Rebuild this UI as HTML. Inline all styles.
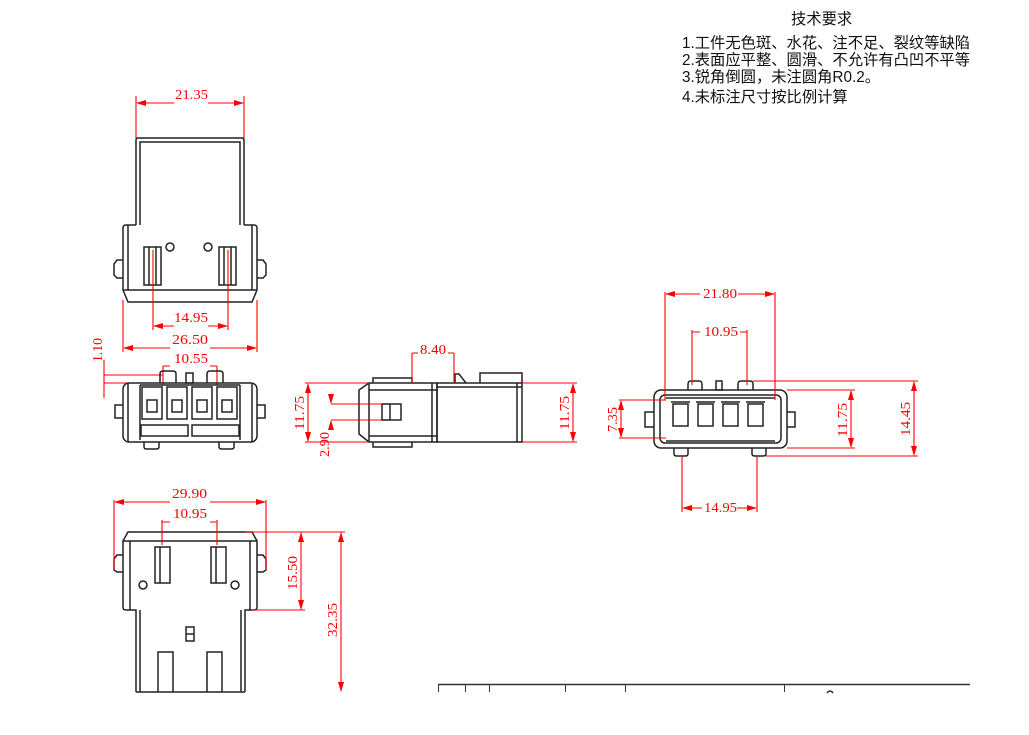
<!DOCTYPE html>
<html><head><meta charset="utf-8"><style>
html,body{margin:0;padding:0;background:#fff;width:1029px;height:735px;overflow:hidden}
svg{display:block}
.k{fill:none;stroke:#222;stroke-width:1.5}
.r{fill:none;stroke:#f00;stroke-width:1.1}
.t{fill:#f00;font-family:"Liberation Serif",serif;font-size:14px}
.cn{font-family:"Liberation Sans","Noto Sans CJK SC",sans-serif;font-size:15.3px;fill:#111}
</style></head><body>
<svg width="1029" height="735" viewBox="0 0 1029 735" xmlns="http://www.w3.org/2000/svg">
<defs>
<marker id="a" markerWidth="10" markerHeight="6" refX="9" refY="3" orient="auto-start-reverse" markerUnits="userSpaceOnUse"><path d="M0,0 L10,3 L0,6 z" fill="#f00"/></marker>
</defs>

<text class="cn" x="791" y="24">技术要求</text>
<text class="cn" x="682" y="48">1.工件无色斑、水花、注不足、裂纹等缺陷</text>
<text class="cn" x="682" y="65">2.表面应平整、圆滑、不允许有凸凹不平等</text>
<text class="cn" x="682" y="82">3.锐角倒圆，未注圆角R0.2。</text>
<text class="cn" x="682" y="102">4.未标注尺寸按比例计算</text>

<g class="k">
<path d="M136,225 V140 Q136,138 138,138 H242 Q244,138 244,140 V225"/>
<path d="M140,225 V142 H240 V225"/>
<path d="M136,225 H126 Q123,225 123,228 V290 L128,302 H252 L257,290 V228 Q257,225 254,225 H244"/>
<path d="M128,225 V290 M252,225 V290 M123,290 H257"/>
<path d="M123,260 H117 L114,264 V275 L117,278 H123"/>
<path d="M257,260 H263 L266,264 V275 L263,278 H257"/>
<rect x="144" y="247" width="17" height="38"/>
<path d="M149,247 V285 M156,247 V285"/>
<rect x="219" y="247" width="17" height="38"/>
<path d="M224,247 V285 M231,247 V285"/>
<circle cx="170" cy="247" r="4"/>
<circle cx="208" cy="247" r="4"/>
</g>
<g class="r">
<path d="M136,96 V138 M244,96 V138"/>
<line x1="174" y1="103" x2="137" y2="103" marker-end="url(#a)"/>
<line x1="208" y1="103" x2="243" y2="103" marker-end="url(#a)"/>
<path d="M153,250 V330 M228,250 V330"/>
<line x1="174" y1="326" x2="154" y2="326" marker-end="url(#a)"/>
<line x1="208" y1="326" x2="227" y2="326" marker-end="url(#a)"/>
<path d="M123,300 V352 M257,300 V352"/>
<line x1="170" y1="348" x2="124" y2="348" marker-end="url(#a)"/>
<line x1="210" y1="348" x2="256" y2="348" marker-end="url(#a)"/>
<path d="M163,366 V385 M217,366 V385 M163,366 H170 M217,366 H210"/>
<path d="M104,375 H163 M104,383 H163 M104,360 V398"/>
</g>
<text class="t" x="175" y="99" textLength="33" lengthAdjust="spacingAndGlyphs">21.35</text>
<text class="t" x="174" y="322" textLength="34" lengthAdjust="spacingAndGlyphs">14.95</text>
<text class="t" x="172" y="344" textLength="36" lengthAdjust="spacingAndGlyphs">26.50</text>
<text class="t" x="174" y="363" textLength="34" lengthAdjust="spacingAndGlyphs">10.55</text>
<text class="t" transform="translate(102,362) rotate(-90)" textLength="24" lengthAdjust="spacingAndGlyphs">1.10</text>

<g class="k">
<rect x="123" y="383" width="134" height="59" rx="6"/>
<path d="M128,383 V442 M252,383 V442 M140,385 V440 M240,385 V440 M140,385 H240"/>
<path d="M160,383 V374 Q160,371 163,371 H173 Q176,371 176,374 V383"/>
<rect x="186" y="373" width="7" height="10"/>
<path d="M207,383 V374 Q207,371 210,371 H220 Q223,371 223,374 V383"/>
<rect x="142" y="387" width="20" height="32"/><rect x="167" y="387" width="20" height="32"/>
<rect x="192" y="387" width="20" height="32"/><rect x="217" y="387" width="20" height="32"/>
<path d="M147,400 H157 V412 H147 Z M172,400 H182 V412 H172 Z M197,400 H207 V412 H197 Z M222,400 H232 V412 H222 Z"/>
<rect x="141" y="425" width="47" height="11"/><rect x="192" y="425" width="47" height="11"/>
<path d="M123,405 H115 V418 H123 M257,405 H265 V418 H257"/>
<path d="M144,442 V447 Q144,449 147,449 H156 Q159,449 159,447 V442 M219,442 V447 Q219,449 222,449 H231 Q234,449 234,447 V442"/>
</g>

<g class="k">
<path d="M136,692 V610 H126 Q123,610 123,607 V541 L128,532 H252 L257,541 V607 Q257,610 254,610 H245 V692"/>
<path d="M123,541 H257 M130,541 V610 M250,541 V610 M140,610 V692 M241,610 V692"/>
<path d="M123,555 H117 L114,559 V570 L117,572 H123 M257,555 H263 L266,559 V570 L263,572 H257"/>
<rect x="155" y="547" width="15" height="36"/><path d="M160,547 V583"/>
<rect x="211" y="547" width="15" height="36"/><path d="M216,547 V583"/>
<circle cx="143" cy="585" r="4"/><circle cx="235" cy="585" r="4"/>
<rect x="186" y="627" width="8" height="14"/><path d="M186,634 H194"/>
<path d="M158,692 V652 H173 V692 M207,692 V652 H222 V692 M136,692 H245"/>
</g>
<g class="r">
<path d="M114,500 V570 M266,500 V570"/>
<line x1="170" y1="502" x2="115" y2="502" marker-end="url(#a)"/>
<line x1="210" y1="502" x2="265" y2="502" marker-end="url(#a)"/>
<path d="M162,520 V545 M217,520 V545 M162,522 H170 M217,522 H210"/>
<path d="M245,532 H345 M252,610 H305"/>
<line x1="301" y1="570" x2="301" y2="533" marker-end="url(#a)"/>
<line x1="301" y1="570" x2="301" y2="609" marker-end="url(#a)"/>
<line x1="341" y1="600" x2="341" y2="533" marker-end="url(#a)"/>
<line x1="341" y1="600" x2="341" y2="691" marker-end="url(#a)"/>
</g>
<text class="t" x="172" y="498" textLength="35" lengthAdjust="spacingAndGlyphs">29.90</text>
<text class="t" x="173" y="518" textLength="34" lengthAdjust="spacingAndGlyphs">10.95</text>
<text class="t" transform="translate(297,590) rotate(-90)" textLength="34" lengthAdjust="spacingAndGlyphs">15.50</text>
<text class="t" transform="translate(337,637) rotate(-90)" textLength="34" lengthAdjust="spacingAndGlyphs">32.35</text>

<g class="k">
<path d="M369,383 L359,390 V434 L369,442"/>
<rect x="369" y="383" width="68" height="59"/>
<path d="M369,390 H437 M369,436 H437"/>
<rect x="437" y="383" width="85" height="59"/>
<path d="M432,383 V442 M517,383 V442 M437,387 H522"/>
<path d="M373,383 V378 H412 V383 M373,442 V447 H412 V442"/>
<path d="M480,383 V373 H522 V383"/>
<path d="M455,383 V374 H459 L466,383"/>
<rect x="382" y="404" width="19" height="16"/><path d="M390,404 V420"/>
</g>
<g class="r">
<path d="M412,353 V383 M454,353 V383 M412,353 H418 M454,353 H448"/>
<path d="M305,383 H369 M305,442 H369"/>
<line x1="308" y1="413" x2="308" y2="384" marker-end="url(#a)"/>
<line x1="308" y1="413" x2="308" y2="441" marker-end="url(#a)"/>
<path d="M331,404 H382 M331,420 H382"/>
<line x1="331" y1="395" x2="331" y2="403" marker-end="url(#a)"/>
<line x1="331" y1="430" x2="331" y2="421" marker-end="url(#a)"/>
<path d="M522,383 H577 M522,442 H577"/>
<line x1="573" y1="413" x2="573" y2="384" marker-end="url(#a)"/>
<line x1="573" y1="413" x2="573" y2="441" marker-end="url(#a)"/>
</g>
<text class="t" x="420" y="354" textLength="26" lengthAdjust="spacingAndGlyphs">8.40</text>
<text class="t" transform="translate(304,430) rotate(-90)" textLength="34" lengthAdjust="spacingAndGlyphs">11.75</text>
<text class="t" transform="translate(329,457) rotate(-90)" textLength="25" lengthAdjust="spacingAndGlyphs">2.90</text>
<text class="t" transform="translate(569,430) rotate(-90)" textLength="34" lengthAdjust="spacingAndGlyphs">11.75</text>

<g class="k">
<rect x="654" y="390" width="133" height="58" rx="7"/>
<rect x="660" y="395" width="121" height="48" rx="5"/>
<path d="M666,398 H775 M666,441 H775"/>
<path d="M688,390 V384 Q688,381 691,381 H699 Q702,381 702,384 V390"/>
<rect x="716" y="381" width="6" height="9"/>
<path d="M738,390 V384 Q738,381 741,381 H750 Q753,381 753,384 V390"/>
<rect x="673" y="404" width="15" height="22"/><rect x="698" y="404" width="15" height="22"/>
<rect x="723" y="404" width="15" height="22"/><rect x="748" y="404" width="15" height="22"/>
<path d="M671,402 H690 M696,402 H715 M721,402 H740 M746,402 H765"/>
<path d="M654,412 H645 V427 H654 M787,412 H795 V427 H787"/>
<path d="M674,448 V454 Q674,456 677,456 H685 Q688,456 688,454 V448 M752,448 V454 Q752,456 755,456 H763 Q766,456 766,454 V448"/>
</g>
<g class="r">
<path d="M665,292 V400 M775,292 V400"/>
<line x1="700" y1="294" x2="666" y2="294" marker-end="url(#a)"/>
<line x1="738" y1="294" x2="774" y2="294" marker-end="url(#a)"/>
<path d="M692,330 V385 M747,330 V385 M692,332 H700 M747,332 H740"/>
<path d="M787,390 H855 M787,448 H855 M753,381 H918 M766,456 H918"/>
<line x1="851" y1="420" x2="851" y2="391" marker-end="url(#a)"/>
<line x1="851" y1="420" x2="851" y2="447" marker-end="url(#a)"/>
<line x1="914" y1="420" x2="914" y2="382" marker-end="url(#a)"/>
<line x1="914" y1="420" x2="914" y2="455" marker-end="url(#a)"/>
<path d="M619,400 H666 M619,438 H666"/>
<line x1="621" y1="419" x2="621" y2="401" marker-end="url(#a)"/>
<line x1="621" y1="419" x2="621" y2="437" marker-end="url(#a)"/>
<path d="M682,456 V512 M757,456 V512"/>
<line x1="702" y1="508" x2="683" y2="508" marker-end="url(#a)"/>
<line x1="737" y1="508" x2="756" y2="508" marker-end="url(#a)"/>
</g>
<text class="t" x="703" y="298" textLength="34" lengthAdjust="spacingAndGlyphs">21.80</text>
<text class="t" x="704" y="336" textLength="34" lengthAdjust="spacingAndGlyphs">10.95</text>
<text class="t" transform="translate(847,437) rotate(-90)" textLength="34" lengthAdjust="spacingAndGlyphs">11.75</text>
<text class="t" transform="translate(910,436) rotate(-90)" textLength="34" lengthAdjust="spacingAndGlyphs">14.45</text>
<text class="t" transform="translate(617,432) rotate(-90)" textLength="25" lengthAdjust="spacingAndGlyphs">7.35</text>
<text class="t" x="704" y="512" textLength="33" lengthAdjust="spacingAndGlyphs">14.95</text>

<g fill="none" stroke="#333">
<path d="M438,684.5 H970" stroke-width="1.6"/>
<path d="M438.5,684 V692 M465.5,684 V692 M489.5,684 V692 M565.5,684 V692 M625.5,684 V692 M784.5,684 V692"/>
<path d="M827,693 Q830,689 833,693" stroke-width="1.5"/>
</g>
</svg>
</body></html>
